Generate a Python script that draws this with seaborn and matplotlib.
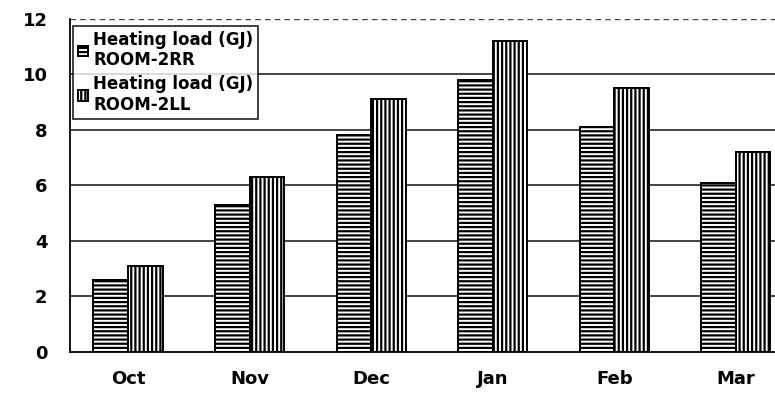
import matplotlib
matplotlib.use("Agg")
import matplotlib.pyplot as plt
import seaborn as sns
import pandas as pd

months = ["Oct", "Nov", "Dec", "Jan", "Feb", "Mar"]
room_2rr = [2.6, 5.3, 7.8, 9.8, 8.1, 6.1]
room_2ll = [3.1, 6.3, 9.1, 11.2, 9.5, 7.2]
series_labels = ["Heating load (GJ)\nROOM-2RR", "Heating load (GJ)\nROOM-2LL"]
y_ticks = [0, 2, 4, 6, 8, 10, 12]

df = pd.DataFrame({
    "month": months * 2,
    "load": room_2rr + room_2ll,
    "series": [series_labels[0]] * len(months) + [series_labels[1]] * len(months),
})

sns.set_style("white")
plt.rcParams["font.family"] = ["DejaVu Sans"]
plt.rcParams["text.color"] = "black"
plt.rcParams["xtick.color"] = "black"
plt.rcParams["ytick.color"] = "black"
plt.rcParams["hatch.linewidth"] = 1.6
plt.rcParams["hatch.color"] = "black"

fig = plt.figure(figsize=(7.75, 3.94), dpi=100)
ax = fig.add_axes([0.090, 0.107, 0.93, 0.845])

sns.barplot(data=df, x="month", y="load", hue="series", order=months,
            hue_order=series_labels, width=0.57, dodge=True,
            palette=["white", "white"], edgecolor="black", linewidth=1.4,
            saturation=1, legend=False, ax=ax, zorder=3)

hatches = ["----", "||||"]
for container, h in zip(ax.containers, hatches):
    for bar in container:
        bar.set_hatch(h)
        bar.set_facecolor("white")
        bar.set_edgecolor("black")

ax.set_ylim(0, 12)
ax.set_xlim(-0.48, 5.45)
ax.set_yticks(y_ticks)
ax.set_yticklabels([str(v) for v in y_ticks], fontsize=13, fontweight="bold")
ax.set_xticks(range(len(months)))
ax.set_xticklabels(months, fontsize=13, fontweight="bold")
ax.set_xlabel("")
ax.set_ylabel("")

# horizontal grid lines at each level, dashed at the top
for v in y_ticks[1:-1]:
    ax.axhline(v, color="#222222", linewidth=1.2, zorder=1)
ax.axhline(12, color="#444444", linewidth=1.0, linestyle=(0, (4, 3)), zorder=1)

for side in ["top", "right"]:
    ax.spines[side].set_visible(False)
ax.spines["left"].set_color("black")
ax.spines["left"].set_linewidth(1.3)
ax.spines["bottom"].set_color("black")
ax.spines["bottom"].set_linewidth(1.3)

ax.tick_params(axis="x", which="major", length=0, pad=13)
ax.tick_params(axis="y", which="major", length=0, pad=16)
ax.set_xticks([i + 0.5 for i in range(len(months) - 1)], minor=True)
ax.tick_params(axis="x", which="minor", direction="in", length=6, width=1.2, color="black")

handles = [ax.containers[0][0], ax.containers[1][0]]
leg = ax.legend(handles, series_labels, loc="upper left",
                bbox_to_anchor=(0.0, 0.99), frameon=True, fancybox=False,
                handlelength=0.6, handleheight=0.6, handletextpad=0.3,
                borderpad=0.3, labelspacing=0.35, borderaxespad=0.2,
                prop={"weight": "bold", "size": 12})
leg.get_frame().set_edgecolor("black")
leg.get_frame().set_linewidth(1.3)
leg.set_zorder(5)

fig.savefig("out.png", dpi=100)
